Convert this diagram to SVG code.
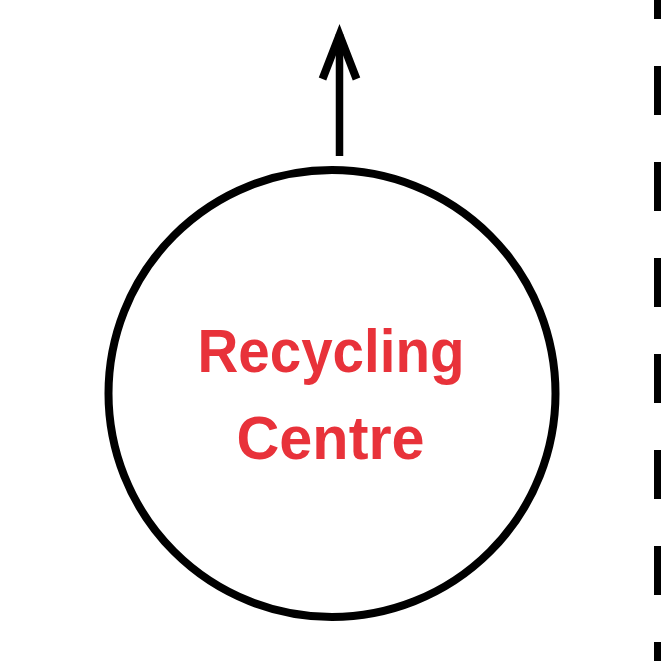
<svg xmlns="http://www.w3.org/2000/svg" width="661" height="661" viewBox="0 0 661 661">
<style>
.ln{fill:none;stroke:#000;}
.lbl{font-family:"Liberation Sans",Arial,sans-serif;font-weight:bold;font-size:61px;fill:#e8323a;text-anchor:middle;}
</style>
<rect width="661" height="661" fill="#fff"/>
<g id="connectors">
<line class="ln" x1="657.5" y1="0" x2="657.5" y2="661" stroke-width="7" stroke-dasharray="49 47" stroke-dashoffset="30"/>
<line class="ln" x1="339.5" y1="156" x2="339.5" y2="34" stroke-width="7.5"/>
<path class="ln" d="M322.5,79 L339.5,35 L356.5,79" stroke-width="8" stroke-linejoin="miter" stroke-miterlimit="10"/>
</g>
<g id="recycling-centre">
<circle class="ln" cx="332" cy="393.5" r="223.5" stroke-width="8"/>
<text class="lbl" x="331" y="372" textLength="267" lengthAdjust="spacingAndGlyphs">Recycling</text>
<text class="lbl" x="330.5" y="459" textLength="188" lengthAdjust="spacingAndGlyphs">Centre</text>
</g>
</svg>
